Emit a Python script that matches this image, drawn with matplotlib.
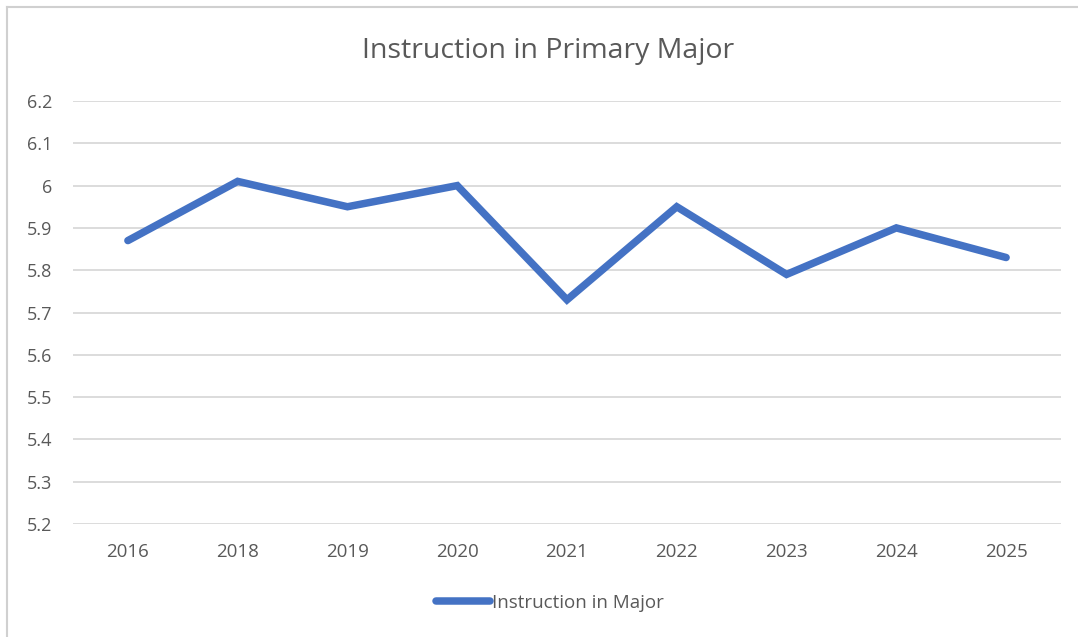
import matplotlib
matplotlib.use("Agg")
from matplotlib import pyplot as plt
from matplotlib.lines import Line2D

# data
years = ["2016", "2018", "2019", "2020", "2021", "2022", "2023", "2024", "2025"]
scores = [5.87, 6.01, 5.95, 6.00, 5.73, 5.95, 5.79, 5.90, 5.83]
yticks = [5.2, 5.3, 5.4, 5.5, 5.6, 5.7, 5.8, 5.9, 6.0, 6.1, 6.2]
ytick_labels = ["5.2", "5.3", "5.4", "5.5", "5.6", "5.7", "5.8", "5.9", "6", "6.1", "6.2"]

plt.rcParams['font.family'] = ['Open Sans', 'DejaVu Sans']

W, H = 1078, 637
fig = plt.figure(figsize=(W / 100, H / 100), dpi=100)
ax = fig.add_axes([73 / W, 1 - 524 / H, (1061 - 73) / W, (524 - 101) / H])

x = list(range(len(years)))
ax.plot(x, scores, color="#4472C4", lw=5.4, solid_capstyle="round", solid_joinstyle="miter")

ax.set_xlim(-0.5, len(years) - 0.5)
ax.set_ylim(5.2, 6.2)
ax.set_yticks(yticks)
ax.set_yticklabels(ytick_labels)
ax.set_xticks(x)
ax.set_xticklabels(years)
ax.grid(axis="y", color="#D9D9D9", lw=1.3)
ax.set_axisbelow(True)
for s in ax.spines.values():
    s.set_visible(False)
ax.tick_params(length=0, labelsize=13.5, labelcolor="#595959")
ax.tick_params(axis="y", pad=15, labelsize=13)
ax.tick_params(axis="x", pad=14)

fig.text(548 / W, 1 - 51 / H, "Instruction in Primary Major", ha="center", va="center",
         fontsize=20.5, color="#595959")

# legend
handle = Line2D([], [], color="#4472C4", lw=5.4, solid_capstyle="round")
fig.legend([handle], ["Instruction in Major"], loc="center", bbox_to_anchor=(550 / W, 1 - 603 / H),
           frameon=False, fontsize=13.5, handlelength=2.9, handletextpad=0.1, labelcolor="#595959")

# chart border (top and left edges visible in the screenshot)
fig.add_artist(Line2D([7 / W, 1], [1 - 7 / H, 1 - 7 / H], color="#D0D0D0", lw=1.5))
fig.add_artist(Line2D([7 / W, 7 / W], [0, 1 - 7 / H], color="#D0D0D0", lw=1.5))

fig.savefig("out.png", dpi=100)
